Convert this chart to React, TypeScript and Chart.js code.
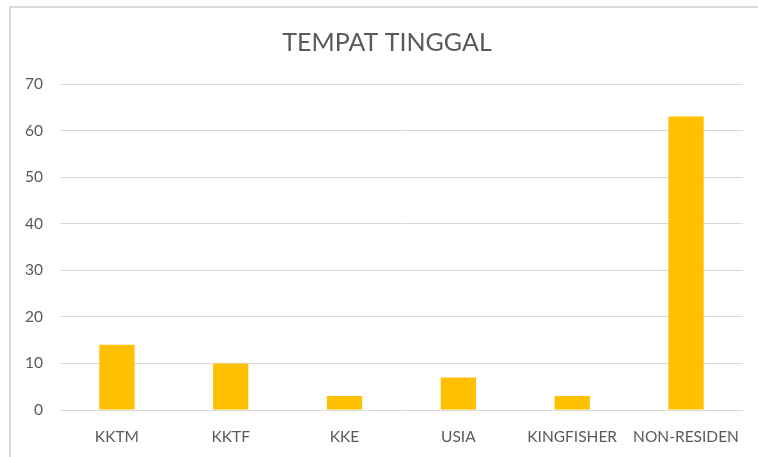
import React, { useEffect, useRef } from "react";
import { Chart, registerables } from "chart.js";

Chart.register(...registerables);

const categories = ["KKTM", "KKTF", "KKE", "USIA", "KINGFISHER", "NON-RESIDEN"];
const values = [14, 10, 3, 7, 3, 63];
const chartTitle = "TEMPAT TINGGAL";
const yMin = 0;
const yMax = 70;
const yStep = 10;

const FONT = "Lato, 'Open Sans', sans-serif";

// Centre the title over the whole chart frame (which extends past the right edge).
const titleCentre = {
  id: "titleCentre",
  afterLayout(chart: any) {
    const t = chart.titleBlock;
    if (t) {
      t.left = 9;
      t.right = 765;
    }
  },
};

export default function App() {
  const ref = useRef<HTMLCanvasElement | null>(null);

  useEffect(() => {
    if (!ref.current) return;
    const chart = new Chart(ref.current, {
      type: "bar",
      data: {
        labels: categories,
        datasets: [
          {
            data: values,
            backgroundColor: "#FFC000",
            borderWidth: 0,
            categoryPercentage: 1,
            barPercentage: 0.31,
          },
        ],
      },
      options: {
        animation: false,
        responsive: false,
        maintainAspectRatio: false,
        layout: { padding: { left: 0, right: 13, top: 0, bottom: 0 } },
        plugins: {
          legend: { display: false },
          tooltip: { enabled: false },
          title: {
            display: true,
            text: chartTitle,
            color: "#595959",
            font: { family: FONT, size: 25, weight: "normal", lineHeight: 1.2 },
            padding: { top: 28, bottom: 26 },
          },
        },
        scales: {
          x: {
            grid: { display: false, drawTicks: false },
            border: { display: false },
            ticks: {
              color: "#595959",
              font: { family: FONT, size: 15.5 },
              padding: 18,
              maxRotation: 0,
              autoSkip: false,
            },
            afterFit: (s: any) => {
              s.height = 47;
            },
          },
          y: {
            min: yMin,
            max: yMax,
            grid: { color: "#D9D9D9", lineWidth: 1, drawTicks: false },
            border: { display: false },
            ticks: {
              stepSize: yStep,
              color: "#595959",
              font: { family: FONT, size: 15.5 },
              padding: 17,
            },
            afterFit: (s: any) => {
              s.width = 60;
            },
          },
        },
      },
      plugins: [titleCentre],
    });
    return () => chart.destroy();
  }, []);

  return (
    <div style={{ position: "absolute", left: 0, top: 0, width: 758, height: 457, overflow: "hidden", background: "#fff" }}>
      <div
        style={{
          position: "absolute",
          left: 9,
          top: 6,
          width: 800,
          height: 500,
          border: "2px solid #D9D9D9",
          boxSizing: "border-box",
        }}
      />
      <canvas ref={ref} width={758} height={457} style={{ position: "absolute", left: 0, top: 0 }} />
    </div>
  );
}
